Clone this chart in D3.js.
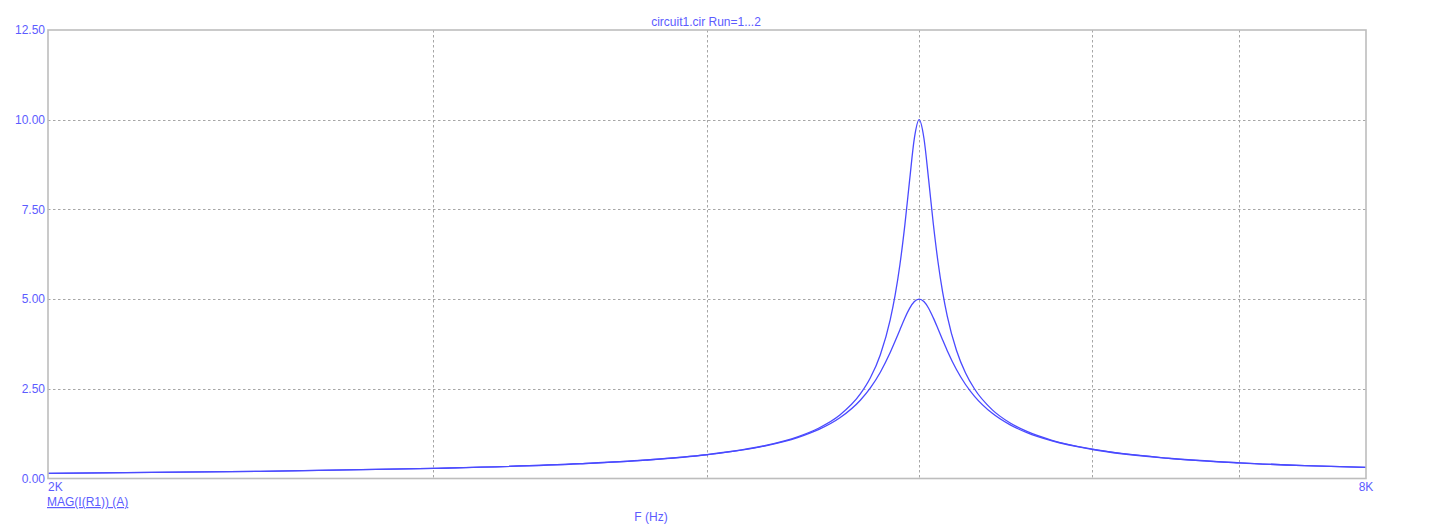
<!DOCTYPE html>
<html>
<head>
<meta charset="utf-8">
<script src="https://cdn.jsdelivr.net/npm/d3@7"></script>
<style>
  html, body { margin: 0; padding: 0; background: #ffffff; }
  svg { display: block; }
  text { font-family: "Liberation Sans", Arial, sans-serif; font-size: 12px; fill: #5c5cff; }
</style>
</head>
<body>
<svg id="chart" width="1429" height="528"></svg>
<script>
// ---- data ----
const freqHz = [2000,2500,3000,3500,3750,4000,4250,4400,4500,4600,4700,4750,4800,4850,4875,4900,4925,4950,4975,5000,5025,5050,5075,5100,5125,5150,5200,5250,5300,5400,5500,5600,5750,6000,6500,7000,7500,8000];
const run1 = [0.143,0.200,0.282,0.412,0.515,0.666,0.916,1.163,1.408,1.770,2.357,2.808,3.451,4.421,5.101,5.965,7.048,8.310,9.485,10.0,9.490,8.336,7.101,6.042,5.195,4.528,3.574,2.940,2.494,1.913,1.554,1.311,1.065,0.816,0.565,0.438,0.360,0.308];
const run2 = [0.143,0.200,0.281,0.411,0.512,0.662,0.905,1.141,1.368,1.692,2.182,2.525,2.962,3.510,3.822,4.148,4.466,4.741,4.932,5.0,4.932,4.746,4.477,4.174,3.862,3.563,3.039,2.620,2.290,1.816,1.500,1.278,1.047,0.808,0.562,0.437,0.359,0.308];
const yTicks = [0, 2.5, 5, 7.5, 10, 12.5];
const yTickLabels = ["0.00","2.50","5.00","7.50","10.00","12.50"];
const xGrid = [3000, 4000, 5000, 6000, 7000];
const xEndLabels = [{v: 2000, t: "2K"}, {v: 8000, t: "8K"}];
const title = "circuit1.cir Run=1...2";
const xTitle = "F (Hz)";
const traceName = "MAG(I(R1)) (A)";

// ---- layout ----
const L = 48, R = 1366, T = 30, B = 478.5;
const svg = d3.select("#chart");
const x = d3.scaleLog().domain([2000, 8000]).range([L, R]);
const y = d3.scaleLinear().domain([0, 12.5]).range([B, T]);

// grid
const grid = svg.append("g").attr("stroke", "#a6a6a6").attr("stroke-width", 1).attr("stroke-dasharray", "2.5,2.5");
grid.selectAll("line.h").data(yTicks.slice(1, -1)).enter().append("line")
  .attr("x1", L).attr("x2", R).attr("y1", d => Math.round(y(d)) + 0.5).attr("y2", d => Math.round(y(d)) + 0.5);
grid.selectAll("line.v").data(xGrid).enter().append("line")
  .attr("y1", T).attr("y2", B).attr("x1", d => Math.round(x(d)) + 0.5).attr("x2", d => Math.round(x(d)) + 0.5);

// curves
const line = d3.line().x(d => x(d[0])).y(d => y(d[1])).curve(d3.curveMonotoneX);
[run1, run2].forEach(run => {
  svg.append("path")
    .datum(freqHz.map((f, i) => [f, run[i]]))
    .attr("d", line)
    .attr("fill", "none")
    .attr("stroke", "#4a4aff")
    .attr("stroke-width", 1.3);
});

// frame
svg.append("rect").attr("x", L).attr("y", T).attr("width", R - L).attr("height", B - T)
  .attr("fill", "none").attr("stroke", "#bdbdbd").attr("stroke-width", 1.6);

// y tick labels
svg.selectAll("text.yl").data(yTicks).enter().append("text")
  .attr("x", L - 3).attr("y", d => y(d)).attr("dy", "0.35em")
  .attr("text-anchor", "end").text((d, i) => yTickLabels[i]);

// x end labels
svg.selectAll("text.xl").data(xEndLabels).enter().append("text")
  .attr("x", d => x(d.v)).attr("y", 491)
  .attr("text-anchor", (d, i) => i === 0 ? "start" : "middle").text(d => d.t);

// title
svg.append("text").attr("x", 706).attr("y", 26).attr("text-anchor", "middle").text(title);
// x title
svg.append("text").attr("x", 651).attr("y", 521).attr("text-anchor", "middle").text(xTitle);
// trace name (underlined)
svg.append("text").attr("x", L - 1).attr("y", 506).attr("text-anchor", "start")
  .style("text-decoration", "underline").text(traceName);
</script>
</body>
</html>
